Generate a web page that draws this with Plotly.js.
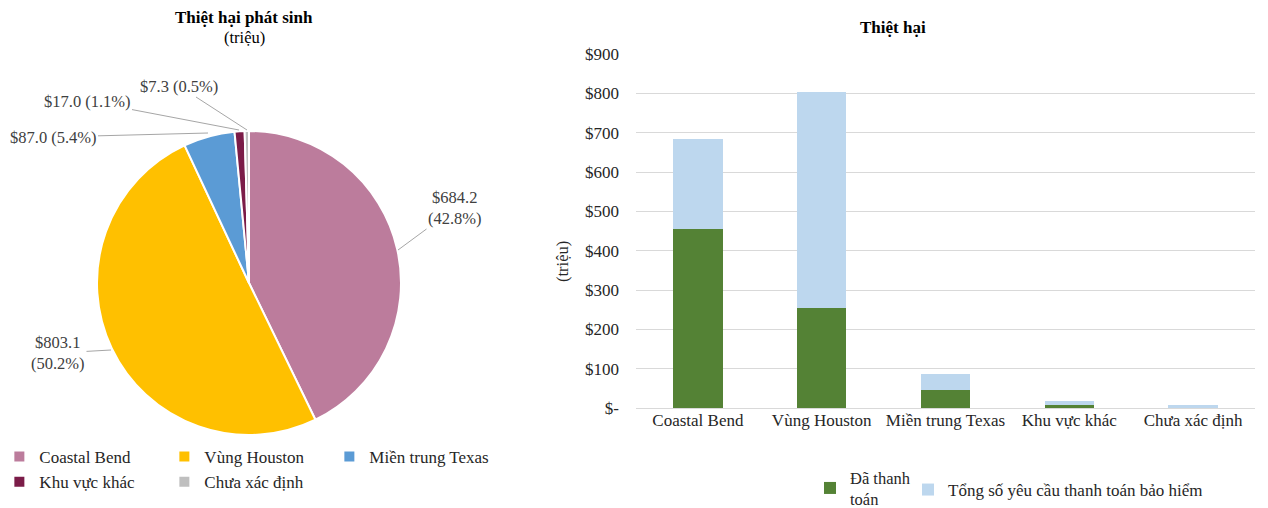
<!DOCTYPE html>
<html>
<head>
<meta charset="utf-8">
<script src="https://cdn.plot.ly/plotly-3.0.1.min.js"></script>
<style>html,body{margin:0;padding:0;background:#fff;}#chart{width:1268px;height:508px;}</style>
</head>
<body>
<div id="chart"></div>
<script>
// ---- Data ----
const regions = ["Coastal Bend", "Vùng Houston", "Miền trung Texas", "Khu vực khác", "Chưa xác định"];
const damageTotal = [684.2, 803.1, 87.0, 17.0, 7.3];
const pieColors = ["#BC7C9C", "#FFC000", "#5B9BD5", "#7B1C48", "#BFBFBF"];

const barCategories = ["Coastal Bend", "Vùng Houston", "Miền trung Texas", "Khu vực khác", "Chưa xác định"];
const paid = [455, 255, 45, 8, 0];
const claimsRemaining = [229.2, 548.1, 42, 9, 7.3];
const seriesNames = ["Đã thanh<br>toán", "Tổng số yêu cầu thanh toán bảo hiểm"];

const yTickVals = [0, 100, 200, 300, 400, 500, 600, 700, 800, 900];
const yTickText = ["$-", "$100", "$200", "$300", "$400", "$500", "$600", "$700", "$800", "$900"];

// ---- Layout helpers ----
const W = 1268, H = 508;
const px = x => x / W;
const py = y => 1 - y / H;
const serif = "Liberation Serif, Times New Roman, serif";

const sum = damageTotal.reduce((a, b) => a + b, 0);
const pieLabelText = damageTotal.map(v => "$" + v.toFixed(1) + " (" + (v / sum * 100).toFixed(1) + "%)");
const pieLabelTextWrapped = damageTotal.map(v => "$" + v.toFixed(1) + "<br>(" + (v / sum * 100).toFixed(1) + "%)");

// label placement: [headX, headY, textX, textY, wrapped]
const labelPos = [
  [398, 250, 455, 208, true],
  [111, 350, 58, 353, true],
  [208, 133, 53, 137, false],
  [239, 130, 87, 101, false],
  [247, 130, 179, 86, false]
];

const pieAnnotations = labelPos.map((p, i) => ({
  xref: "paper", yref: "paper",
  x: px(p[0]), y: py(p[1]),
  ax: p[2] - p[0], ay: p[3] - p[1],
  text: p[4] ? pieLabelTextWrapped[i] : pieLabelText[i],
  showarrow: true, arrowhead: 0, arrowwidth: 1, arrowcolor: "#A6A6A6",
  standoff: 0, startstandoff: 0,
  font: {family: serif, size: 16.5, color: "#404040"},
  align: "center"
}));

const traces = [
  {
    type: "pie",
    labels: regions,
    values: damageTotal,
    marker: {colors: pieColors, line: {color: "#FFFFFF", width: 2}},
    sort: false,
    direction: "clockwise",
    rotation: 0,
    textinfo: "none",
    hoverinfo: "skip",
    domain: {x: [px(97), px(401)], y: [py(435), py(131)]},
    legend: "legend"
  },
  {
    type: "bar",
    x: barCategories,
    y: paid,
    name: seriesNames[0],
    marker: {color: "#548235"},
    hoverinfo: "skip",
    legend: "legend2"
  },
  {
    type: "bar",
    x: barCategories,
    y: claimsRemaining,
    name: seriesNames[1],
    marker: {color: "#BDD7EE"},
    hoverinfo: "skip",
    legend: "legend3"
  }
];

const legendFont = {family: serif, size: 17, color: "#262626"};

const layout = {
  width: W, height: H,
  margin: {l: 0, r: 0, t: 0, b: 0, autoexpand: false},
  paper_bgcolor: "#FFFFFF",
  plot_bgcolor: "#FFFFFF",
  barmode: "stack",
  bargap: 0.6,
  showlegend: true,
  font: {family: serif, size: 16, color: "#404040"},
  xaxis: {
    domain: [px(636), px(1255)],
    anchor: "y",
    showgrid: false,
    showline: false,
    zeroline: false,
    ticks: "",
    tickfont: {family: serif, size: 17, color: "#262626"},
    fixedrange: true
  },
  yaxis: {
    domain: [py(408), py(54)],
    anchor: "x",
    range: [0, 900],
    tickvals: yTickVals,
    ticktext: yTickText,
    showgrid: true,
    gridcolor: "#D9D9D9",
    gridwidth: 1,
    zeroline: true,
    zerolinecolor: "#D9D9D9",
    zerolinewidth: 1,
    showline: false,
    ticks: "",
    ticklabelstandoff: 16,
    tickfont: {family: serif, size: 17, color: "#262626"},
    fixedrange: true
  },
  legend: {
    orientation: "h",
    x: -0.0005, xanchor: "left",
    y: py(439), yanchor: "top",
    entrywidth: 120,
    tracegroupgap: 0,
    itemclick: false,
    font: legendFont,
    bgcolor: "rgba(0,0,0,0)"
  },
  legend2: {
    orientation: "h",
    x: px(810), xanchor: "left",
    y: py(488), yanchor: "middle",
    itemclick: false,
    valign: "middle",
    font: {family: serif, size: 16.5, color: "#262626"},
    bgcolor: "rgba(0,0,0,0)"
  },
  legend3: {
    orientation: "h",
    x: px(908), xanchor: "left",
    y: py(490), yanchor: "middle",
    itemclick: false,
    valign: "middle",
    font: legendFont,
    bgcolor: "rgba(0,0,0,0)"
  },
  annotations: [
    {xref: "paper", yref: "paper", x: px(244), y: py(17), xanchor: "center", yanchor: "middle",
     text: "<b>Thiệt hại phát sinh</b>", showarrow: false,
     font: {family: serif, size: 17, color: "#000000"}},
    {xref: "paper", yref: "paper", x: px(244), y: py(38), xanchor: "center", yanchor: "middle",
     text: "(triệu)", showarrow: false,
     font: {family: serif, size: 16.5, color: "#000000"}},
    {xref: "paper", yref: "paper", x: px(893), y: py(27), xanchor: "center", yanchor: "middle",
     text: "<b>Thiệt hại</b>", showarrow: false,
     font: {family: serif, size: 17, color: "#000000"}},
    {xref: "paper", yref: "paper", x: px(562), y: py(262), xanchor: "center", yanchor: "middle",
     text: "(triệu)", textangle: -90, showarrow: false,
     font: {family: serif, size: 16.5, color: "#262626"}}
  ].concat(pieAnnotations)
};

Plotly.newPlot("chart", traces, layout, {displayModeBar: false, staticPlot: true});
</script>
</body>
</html>
